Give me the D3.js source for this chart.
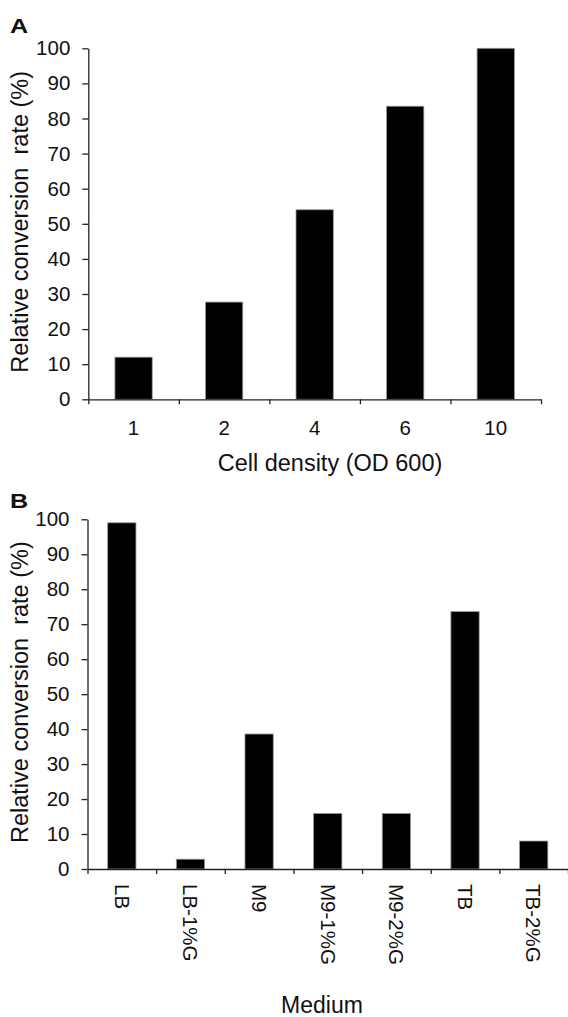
<!DOCTYPE html>
<html>
<head>
<meta charset="utf-8">
<script src="https://cdn.jsdelivr.net/npm/d3@7"></script>
<style>
  body { margin: 0; background: #fff; }
  svg { display: block; font-family: "Liberation Sans", Arial, sans-serif; }
</style>
</head>
<body>
<svg id="chart" width="568" height="1017"></svg>
<script>
// panel A data
const densityLabels = ["1", "2", "4", "6", "10"];
const densityValues = [12, 27.7, 54, 83.5, 100];

// panel B data
const mediumLabels = ["LB", "LB-1%G", "M9", "M9-1%G", "M9-2%G", "TB", "TB-2%G"];
const mediumValues = [99, 2.8, 38.6, 15.9, 15.9, 73.6, 8];

const yTicks = [0, 10, 20, 30, 40, 50, 60, 70, 80, 90, 100];
const yTitle = "Relative conversion\u00a0 rate (%)";

const svg = d3.select("#chart");

function drawPanel(opt) {
  const { labels, values, x0, x1, yTop, yBottom, letter, letterY, title, titleX, titleY, titleSize, rotateLabels } = opt;
  const g = svg.append("g");

  const y = d3.scaleLinear().domain([0, 100]).range([yBottom, yTop]);
  // bars centred in each category slot
  const x = d3.scaleBand().domain(labels).range([x0, x1])
    .paddingInner(0.588).paddingOuter(0.294);
  // slot boundaries for tick marks
  const xEdge = d3.scaleLinear().domain([0, labels.length]).range([x0, x1]);

  g.selectAll("rect.bar")
    .data(values)
    .join("rect")
    .attr("class", "bar")
    .attr("x", (d, i) => x(labels[i]))
    .attr("width", x.bandwidth())
    .attr("y", d => y(d))
    .attr("height", d => yBottom - y(d))
    .attr("fill", "#000")
    .attr("stroke", "#999")
    .attr("stroke-width", 0.8);

  // y axis
  const yAxis = g.append("g")
    .attr("transform", `translate(${x0},0)`)
    .call(d3.axisLeft(y).tickValues(yTicks).tickSize(6).tickSizeOuter(0).tickPadding(12));
  yAxis.select(".domain").attr("stroke", "#222").attr("stroke-width", 1.3);
  yAxis.selectAll(".tick line").attr("stroke", "#222").attr("stroke-width", 1.3);
  yAxis.selectAll("text").attr("font-size", "20.5px").attr("fill", "#111")
    .attr("font-family", "Liberation Sans, Arial, sans-serif");

  // x axis line + boundary ticks
  const xTickAxis = g.append("g")
    .attr("transform", `translate(0,${yBottom})`)
    .call(d3.axisBottom(xEdge).tickValues(d3.range(labels.length + 1)).tickSize(5).tickSizeOuter(0).tickFormat(""));
  xTickAxis.select(".domain").attr("stroke", "#222").attr("stroke-width", 1.3);
  xTickAxis.selectAll(".tick line").attr("stroke", "#222").attr("stroke-width", 1.3);

  // category labels
  const xLab = g.append("g")
    .attr("transform", `translate(0,${yBottom})`)
    .call(d3.axisBottom(x).tickSize(0).tickPadding(rotateLabels ? 15 : 20.7));
  xLab.select(".domain").remove();
  xLab.selectAll("text").attr("font-size", "20.5px").attr("fill", "#111")
    .attr("font-family", "Liberation Sans, Arial, sans-serif");
  if (rotateLabels) {
    xLab.selectAll("text")
      .attr("transform", "rotate(90)")
      .attr("x", 15)
      .attr("y", 0)
      .attr("dy", "0.35em")
      .attr("text-anchor", "start");
  }

  // panel letter (a bit wider than normal in the original)
  g.append("text")
    .attr("transform", `translate(10,${letterY}) scale(1.2,1)`)
    .attr("font-size", "21px").attr("font-weight", "bold").attr("fill", "#111")
    .text(letter);

  // y title
  g.append("text")
    .attr("transform", `translate(28,${(yTop + yBottom) / 2 - 2}) rotate(-90)`)
    .attr("text-anchor", "middle")
    .attr("font-size", "23.5px").attr("fill", "#111")
    .text(yTitle);

  // x title
  g.append("text")
    .attr("x", titleX).attr("y", titleY)
    .attr("text-anchor", "middle")
    .attr("font-size", titleSize).attr("fill", "#111")
    .text(title);
}

drawPanel({
  labels: densityLabels, values: densityValues,
  x0: 88.3, x1: 541, yTop: 48.3, yBottom: 399.3,
  letter: "A", letterY: 33,
  title: "Cell density (OD 600)", titleX: 330, titleY: 471, titleSize: "23.5px",
  rotateLabels: false
});

drawPanel({
  labels: mediumLabels, values: mediumValues,
  x0: 87.5, x1: 568, yTop: 519.3, yBottom: 869,
  letter: "B", letterY: 508,
  title: "Medium", titleX: 322, titleY: 1013, titleSize: "23px",
  rotateLabels: true
});
</script>
</body>
</html>
